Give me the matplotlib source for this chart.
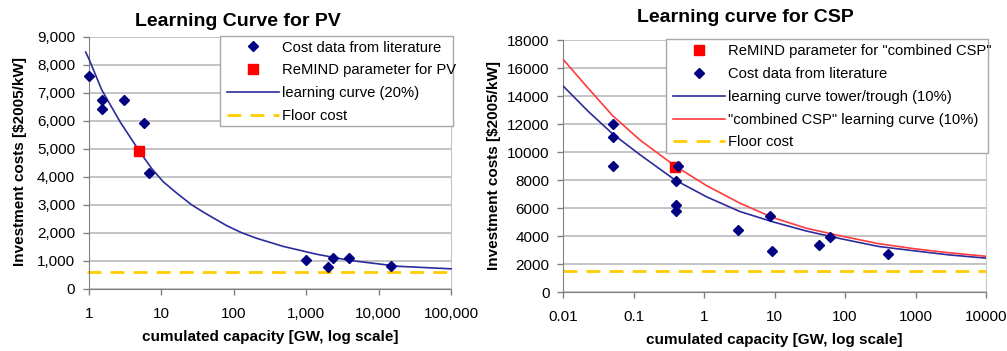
import matplotlib
matplotlib.use("Agg")
import matplotlib.pyplot as plt
from matplotlib.ticker import FixedLocator, FixedFormatter
from matplotlib.lines import Line2D
from matplotlib.patches import Rectangle

plt.rcParams['font.family'] = ['Liberation Sans', 'DejaVu Sans']

# ---- PV data ----
pv_lit_x = [1, 1.5, 1.5, 3.0, 5.7, 6.75, 1000, 2000, 2330, 3900, 14800]
pv_lit_y = [7600, 6750, 6420, 6750, 5900, 4150, 1020, 790, 1100, 1080, 800]
pv_remind_x = [4.9]
pv_remind_y = [4900]
pv_curve_x = [0.9, 1, 1.5, 2.7, 5, 7.3, 10.6, 16, 26, 40, 80, 128, 207, 483, 1400, 4000, 18700, 100000]
pv_curve_y = [8450, 8200, 7100, 5950, 4900, 4300, 3820, 3430, 3000, 2700, 2250, 2000, 1800, 1510, 1230, 1010, 800, 710]
pv_floor_x = [0.93, 100000]
pv_floor_y = [600, 600]
pv_xticks = [1, 10, 100, 1000, 10000, 100000]
pv_xlabels = ["1", "10", "100", "1,000", "10,000", "100,000"]
pv_yticks = list(range(0, 9001, 1000))
pv_ylabels = ["0", "1,000", "2,000", "3,000", "4,000", "5,000", "6,000", "7,000", "8,000", "9,000"]

# ---- CSP data ----
csp_lit_x = [0.05, 0.05, 0.05, 0.4, 0.43, 0.4, 0.4, 3.0, 8.7, 9.2, 42, 62, 405]
csp_lit_y = [12000, 11100, 9000, 7950, 9000, 6200, 5800, 4400, 5430, 2950, 3350, 3950, 2750]
csp_remind_x = [0.39]
csp_remind_y = [8950]
csp_curve_x = [0.01, 0.0226, 0.05, 0.123, 0.386, 1.08, 3.2, 9.6, 28.5, 88, 300, 930, 3000, 10000]
csp_tower_y = [14700, 12900, 11300, 9800, 8000, 6800, 5750, 5000, 4350, 3800, 3250, 2950, 2650, 2420]
csp_comb_y = [16600, 14550, 12600, 10850, 9000, 7600, 6350, 5300, 4550, 4000, 3450, 3100, 2800, 2550]
csp_floor_x = [0.01, 10000]
csp_floor_y = [1500, 1500]
csp_xticks = [0.01, 0.1, 1, 10, 100, 1000, 10000]
csp_xlabels = ["0.01", "0.1", "1", "10", "100", "1000", "10000"]
csp_yticks = list(range(0, 18001, 2000))
csp_ylabels = [str(v) for v in csp_yticks]

NAVY = "#000080"
BLUE_LINE = "#2b2b9c"
RED = "#ff0000"
RED_LINE = "#ff3b3b"
GOLD = "#ffcc00"
GRID = "#b4b4b4"
AXIS = "#808080"
FLOOR_DASH = (0, (5, 3.3))
DIAMOND_MS = 5.2
SQUARE_MS = 6.5

W, H = 1007, 351
fig = plt.figure(figsize=(W / 100, H / 100), dpi=100)


def px_axes(x0, y0, x1, y1):
    return fig.add_axes([x0 / W, 1 - y1 / H, (x1 - x0) / W, (y1 - y0) / H])


def px_box(x0, y0, x1, y1):
    # white legend box with a grey border, drawn over the axes
    fig.patches.append(Rectangle((x0 / W, 1 - y1 / H), (x1 - x0) / W, (y1 - y0) / H,
                                 transform=fig.transFigure, facecolor="white",
                                 edgecolor="#a8a8a8", linewidth=1, zorder=3))


def style_axes(ax, xticks, xlabels, yticks, ylabels, xlim, ylim):
    ax.set_xscale("log")
    ax.set_xlim(*xlim)
    ax.set_ylim(*ylim)
    ax.xaxis.set_major_locator(FixedLocator(xticks))
    ax.xaxis.set_major_formatter(FixedFormatter(xlabels))
    ax.xaxis.set_minor_locator(FixedLocator([]))
    ax.yaxis.set_major_locator(FixedLocator(yticks))
    ax.yaxis.set_major_formatter(FixedFormatter(ylabels))
    ax.grid(axis="y", color=GRID, linewidth=1.1)
    ax.set_axisbelow(True)
    ax.spines["top"].set_visible(False)
    ax.spines["right"].set_color("#c8c8c8")
    ax.spines["left"].set_color(AXIS)
    ax.spines["bottom"].set_color(AXIS)
    ax.tick_params(axis="both", colors=AXIS, labelcolor="black", labelsize=11,
                   length=4, width=1)
    ax.tick_params(axis="x", pad=9)
    ax.tick_params(axis="y", pad=6)


h_lit = Line2D([], [], linestyle="none", marker="D", ms=DIAMOND_MS, color=NAVY)
h_rem = Line2D([], [], linestyle="none", marker="s", ms=SQUARE_MS, color=RED)
h_lc = Line2D([], [], color=BLUE_LINE, lw=1.2)
h_comb = Line2D([], [], color=RED_LINE, lw=1.2)
h_floor = Line2D([], [], color=GOLD, lw=2, linestyle=FLOOR_DASH)
leg_kw = dict(loc="upper left", fontsize=10.6, frameon=False, handlelength=3.5,
              handletextpad=0.2, labelspacing=0.6, borderpad=0.35, borderaxespad=0)

# ---- left: PV ----
ax1 = px_axes(89, 36.7, 451, 288.7)
style_axes(ax1, pv_xticks, pv_xlabels, pv_yticks, pv_ylabels, (1, 100000), (0, 9000))
ax1.plot(pv_floor_x, pv_floor_y, color=GOLD, lw=2, linestyle=FLOOR_DASH, clip_on=False, zorder=2)
ax1.plot(pv_curve_x, pv_curve_y, color=BLUE_LINE, lw=1.2, clip_on=False, zorder=3)
ax1.plot(pv_lit_x, pv_lit_y, linestyle="none", marker="D", ms=DIAMOND_MS, color=NAVY,
         clip_on=False, zorder=4)
ax1.plot(pv_remind_x, pv_remind_y, linestyle="none", marker="s", ms=SQUARE_MS, color=RED, zorder=5)

fig.text(238 / W, 1 - 22 / H, "Learning Curve for PV", ha="center", va="center",
         fontsize=14, fontweight="bold")
fig.text(270 / W, 1 - 337 / H, "cumulated capacity [GW, log scale]", ha="center", va="center",
         fontsize=11, fontweight="bold")
fig.text(20 / W, 1 - 162 / H, "Investment costs [$2005/kW]", ha="center", va="center",
         rotation=90, fontsize=11, fontweight="bold")

px_box(220, 36, 453, 126)
fig.legend([h_lit, h_rem, h_lc, h_floor],
           ["Cost data from literature", "ReMIND parameter for PV",
            "learning curve (20%)", "Floor cost"],
           bbox_to_anchor=(222 / W, 1 - 35.5 / H), **leg_kw)

# ---- right: CSP ----
ax2 = px_axes(563.3, 40, 986, 292)
style_axes(ax2, csp_xticks, csp_xlabels, csp_yticks, csp_ylabels, (0.01, 10000), (0, 18000))
ax2.plot(csp_floor_x, csp_floor_y, color=GOLD, lw=2, linestyle=FLOOR_DASH, clip_on=False, zorder=2)
ax2.plot(csp_curve_x, csp_tower_y, color=BLUE_LINE, lw=1.2, zorder=3)
ax2.plot(csp_curve_x, csp_comb_y, color=RED_LINE, lw=1.2, zorder=3)
ax2.plot(csp_remind_x, csp_remind_y, linestyle="none", marker="s", ms=SQUARE_MS, color=RED, zorder=4)
ax2.plot(csp_lit_x, csp_lit_y, linestyle="none", marker="D", ms=DIAMOND_MS, color=NAVY, zorder=5)

fig.text(745 / W, 1 - 18 / H, "Learning curve for CSP", ha="center", va="center",
         fontsize=14, fontweight="bold")
fig.text(774 / W, 1 - 340 / H, "cumulated capacity [GW, log scale]", ha="center", va="center",
         fontsize=11, fontweight="bold")
fig.text(494 / W, 1 - 165 / H, "Investment costs [$2005/kW]", ha="center", va="center",
         rotation=90, fontsize=11, fontweight="bold")

px_box(666, 39, 988, 153)
fig.legend([h_rem, h_lit, h_lc, h_comb, h_floor],
           ["ReMIND parameter for \"combined CSP\"", "Cost data from literature",
            "learning curve tower/trough (10%)", "\"combined CSP\" learning curve (10%)",
            "Floor cost"],
           bbox_to_anchor=(668 / W, 1 - 39 / H), **leg_kw)

fig.savefig("out.png", dpi=100)
